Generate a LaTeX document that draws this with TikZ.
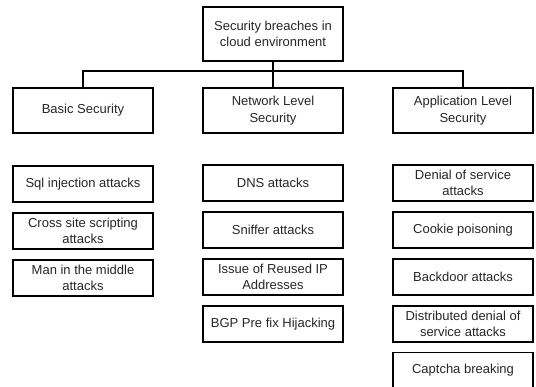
\documentclass[tikz,border=0pt]{standalone}
\usepackage{fontspec}
\setmainfont{Liberation Sans}
\usetikzlibrary{positioning}

\begin{document}
\begin{tikzpicture}[
    x=1pt, y=-1pt,
    line width=1.6pt,
    box/.style={draw=black, rectangle, minimum width=140pt, align=center, inner sep=2pt,
                text=black!85, font=\fontsize{13}{16.5}\selectfont},
    head/.style={box, minimum height=54pt},
    group/.style={box, minimum height=45pt},
    item/.style={box, minimum height=36pt}
]
    \clip (0,0) rectangle (536,386);

    \node[head] (root) at (273,34) {Security breaches in\\cloud environment};

    \node[group] (basic) at (83,110.5) {Basic Security};
    \node[group] (net) at (273,110.5) {Network Level\\Security};
    \node[group] (app) at (463,110.5) {Application Level\\Security};

    \draw (root) -- (net);
    \draw (basic.north) -- ++(0,-16) -| (app.north);

    % basic security
    \node[item] (sql) at (83,184) {Sql injection attacks};
    \node[item, below=9.3pt of sql] (xss) {Cross site scripting\\attacks};
    \node[item, below=9.3pt of xss] (mitm) {Man in the middle\\attacks};

    % network level
    \node[item] (dns) at (273,183) {DNS attacks};
    \node[item, below=9.3pt of dns] (sniff) {Sniffer attacks};
    \node[item, below=9.3pt of sniff] (reuse) {Issue of Reused IP\\Addresses};
    \node[item, below=9.3pt of reuse] (bgp) {BGP Pre fix Hijacking};

    % application level
    \node[item] (dos) at (463,183) {Denial of service\\attacks};
    \node[item, below=9.3pt of dos] (cookie) {Cookie poisoning};
    \node[item, below=9.3pt of cookie] (backdoor) {Backdoor attacks};
    \node[item, below=9.3pt of backdoor] (ddos) {Distributed denial of\\service attacks};
    \node[item, below=9.3pt of ddos] (captcha) {Captcha breaking};
\end{tikzpicture}
\end{document}
